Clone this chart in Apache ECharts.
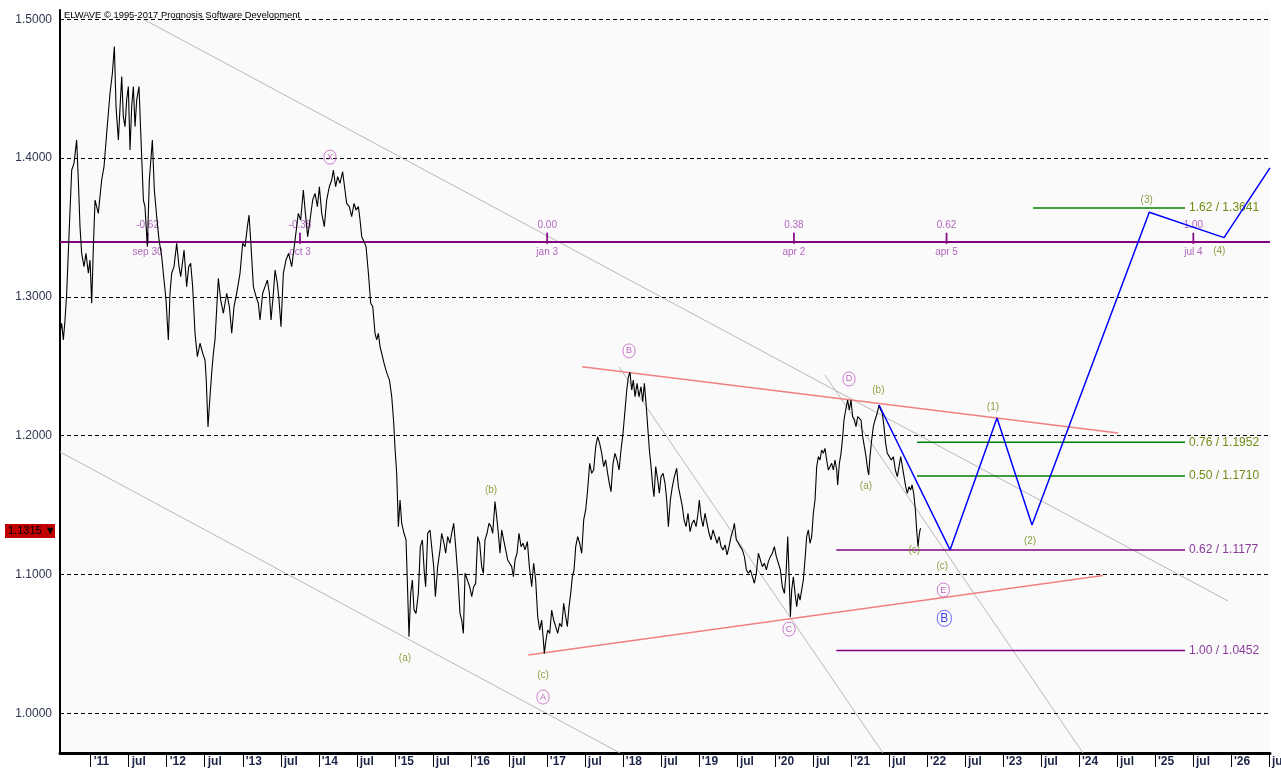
<!DOCTYPE html>
<html><head><meta charset="utf-8">
<script src="https://cdn.jsdelivr.net/npm/echarts@6/dist/echarts.min.js"></script>
<style>html,body{margin:0;padding:0;background:#fff}#c{width:1281px;height:774px}</style>
</head><body><div id="c"></div><script>
// ---- data (x = decimal year, y = EUR/USD) ----
const price = [
[2010.596,1.2738],[2010.618,1.2810],[2010.640,1.2690],[2010.662,1.2834],[2010.684,1.3026],[2010.719,1.3506],[2010.750,1.3914],[2010.780,1.3962],[2010.815,1.4131],[2010.837,1.3842],[2010.859,1.3506],[2010.881,1.3314],[2010.912,1.3218],[2010.938,1.3314],[2010.969,1.3170],[2010.991,1.3266],[2011.013,1.2954],[2011.035,1.3362],[2011.057,1.3698],[2011.100,1.3602],[2011.144,1.3842],[2011.175,1.3938],[2011.210,1.4179],[2011.254,1.4467],[2011.285,1.4611],[2011.311,1.4803],[2011.333,1.4371],[2011.364,1.4131],[2011.386,1.4371],[2011.408,1.4587],[2011.429,1.4299],[2011.451,1.4227],[2011.473,1.4419],[2011.495,1.4515],[2011.517,1.4059],[2011.539,1.4371],[2011.561,1.4515],[2011.583,1.4227],[2011.605,1.4419],[2011.635,1.4515],[2011.662,1.4131],[2011.693,1.3698],[2011.714,1.3650],[2011.745,1.3362],[2011.771,1.3842],[2011.811,1.4131],[2011.837,1.3770],[2011.868,1.3578],[2011.899,1.3410],[2011.934,1.3290],[2011.964,1.3122],[2011.991,1.2978],[2012.021,1.2690],[2012.043,1.3026],[2012.065,1.3170],[2012.096,1.3218],[2012.131,1.3386],[2012.162,1.3218],[2012.184,1.3146],[2012.228,1.3338],[2012.262,1.3074],[2012.289,1.3218],[2012.315,1.3242],[2012.341,1.3074],[2012.372,1.2738],[2012.403,1.2570],[2012.438,1.2666],[2012.473,1.2594],[2012.504,1.2545],
[2012.520,1.2400],[2012.543,1.2063],[2012.565,1.2250],[2012.591,1.2450],[2012.615,1.2600],[2012.635,1.2690],[2012.679,1.3134],[2012.710,1.2978],[2012.745,1.2882],[2012.789,1.3026],[2012.824,1.2930],[2012.855,1.2738],[2012.885,1.2930],[2012.920,1.3026],[2012.964,1.3170],[2012.999,1.3386],[2013.030,1.3362],[2013.061,1.3506],[2013.083,1.3590],[2013.104,1.3410],[2013.140,1.3074],[2013.175,1.3002],[2013.205,1.2954],[2013.227,1.2834],[2013.262,1.3026],[2013.293,1.3074],[2013.324,1.3122],[2013.350,1.3026],[2013.372,1.2834],[2013.403,1.3026],[2013.425,1.3194],[2013.455,1.3098],[2013.477,1.2978],[2013.503,1.2786],[2013.534,1.3170],[2013.569,1.3266],[2013.604,1.3314],[2013.644,1.3218],[2013.688,1.3410],[2013.731,1.3602],[2013.762,1.3554],[2013.797,1.3770],[2013.824,1.3602],[2013.854,1.3434],[2013.885,1.3554],[2013.920,1.3698],[2013.951,1.3746],[2013.982,1.3650],[2014.008,1.3794],[2014.039,1.3602],[2014.073,1.3506],[2014.104,1.3698],[2014.139,1.3794],[2014.170,1.3842],[2014.192,1.3914],[2014.222,1.3794],[2014.249,1.3866],[2014.279,1.3818],[2014.314,1.3902],[2014.336,1.3890],[2014.367,1.3674],[2014.402,1.3650],[2014.433,1.3578],[2014.464,1.3674],[2014.490,1.3626],[2014.521,1.3650],[2014.543,1.3554],[2014.565,1.3434],[2014.596,1.3398],[2014.622,1.3362],[2014.653,1.3170],[2014.683,1.2954],[2014.710,1.2930],[2014.740,1.2738],[2014.762,1.2690],[2014.784,1.2738],[2014.806,1.2642],[2014.828,1.2594],[2014.860,1.2520],[2014.890,1.2460],[2014.930,1.2400],[2014.960,1.2280],[2014.985,1.2100],
[2015.003,1.1909],[2015.025,1.1729],[2015.047,1.1345],[2015.069,1.1537],[2015.091,1.1369],[2015.121,1.1297],[2015.148,1.1249],[2015.170,1.0864],[2015.187,1.0552],[2015.209,1.0864],[2015.231,1.0960],[2015.253,1.0745],[2015.279,1.0720],[2015.310,1.0864],[2015.336,1.1201],[2015.363,1.1249],[2015.389,1.1009],[2015.406,1.0912],[2015.433,1.1297],[2015.463,1.1321],[2015.485,1.1201],[2015.512,1.1057],[2015.534,1.0840],[2015.564,1.1057],[2015.595,1.1177],[2015.617,1.1297],[2015.647,1.1225],[2015.669,1.1153],[2015.696,1.1273],[2015.726,1.1225],[2015.748,1.1297],[2015.775,1.1369],[2015.801,1.1201],[2015.827,1.1009],[2015.858,1.0720],[2015.880,1.0672],[2015.902,1.0576],[2015.924,1.1009],[2015.955,1.0960],[2015.985,1.0912],[2016.012,1.0840],[2016.038,1.0912],[2016.064,1.0936],[2016.090,1.1273],[2016.117,1.1225],[2016.143,1.1057],[2016.165,1.1009],[2016.187,1.1249],[2016.213,1.1297],[2016.239,1.1369],[2016.266,1.1345],[2016.288,1.1297],[2016.318,1.1525],[2016.340,1.1417],[2016.362,1.1297],[2016.384,1.1153],[2016.406,1.1321],[2016.432,1.1249],[2016.459,1.1177],[2016.485,1.1105],[2016.511,1.1081],[2016.538,1.1057],[2016.560,1.0984],[2016.582,1.1105],[2016.608,1.1153],[2016.634,1.1297],[2016.661,1.1201],[2016.687,1.1225],[2016.713,1.1177],[2016.744,1.1237],[2016.770,1.1057],[2016.801,1.0912],[2016.827,1.1081],[2016.853,1.0960],[2016.880,1.0696],[2016.906,1.0600],[2016.932,1.0672],[2016.954,1.0528],[2016.967,1.0432],[2016.989,1.0528],[2017.011,1.0600],[2017.038,1.0576],[2017.064,1.0744],[2017.090,1.0672],[2017.117,1.0624],[2017.143,1.0576],[2017.169,1.0648],[2017.196,1.0624],[2017.222,1.0792],[2017.248,1.0696],[2017.270,1.0624],[2017.292,1.0768],[2017.314,1.0864],[2017.336,1.0985],[2017.358,1.1033],[2017.380,1.1201],[2017.406,1.1273],[2017.432,1.1225],[2017.459,1.1153],[2017.485,1.1393],[2017.511,1.1465],[2017.537,1.1609],[2017.564,1.1801],[2017.590,1.1729],[2017.616,1.1753],[2017.643,1.1921],[2017.669,1.1993],[2017.695,1.1945],[2017.722,1.1873],[2017.748,1.1777],[2017.774,1.1825],[2017.800,1.1729],[2017.822,1.1657],[2017.844,1.1597],[2017.871,1.1801],[2017.897,1.1873],[2017.923,1.1825],[2017.950,1.1753],[2017.976,1.1897],[2018.002,1.2017],[2018.029,1.2185],[2018.051,1.2329],[2018.073,1.2425],[2018.094,1.2457],[2018.116,1.2329],[2018.138,1.2401],[2018.160,1.2281],[2018.187,1.2377],[2018.213,1.2281],[2018.239,1.2353],[2018.261,1.2245],[2018.283,1.2377],[2018.305,1.2233],[2018.327,1.2065],[2018.349,1.1897],[2018.371,1.1777],[2018.393,1.1633],[2018.410,1.1561],[2018.432,1.1777],[2018.459,1.1681],[2018.480,1.1585],[2018.502,1.1705],[2018.529,1.1729],[2018.555,1.1657],[2018.577,1.1537],[2018.599,1.1345],[2018.625,1.1537],[2018.651,1.1633],[2018.678,1.1705],[2018.708,1.1765],[2018.730,1.1633],[2018.757,1.1561],[2018.783,1.1489],[2018.805,1.1393],[2018.831,1.1345],[2018.857,1.1441],[2018.884,1.1309],[2018.910,1.1369],[2018.936,1.1393],[2018.963,1.1345],[2018.989,1.1441],[2019.006,1.1537],[2019.028,1.1417],[2019.055,1.1345],[2019.081,1.1441],[2019.107,1.1369],[2019.134,1.1297],[2019.160,1.1249],[2019.186,1.1321],[2019.213,1.1273],[2019.239,1.1225],[2019.266,1.1273],[2019.292,1.1201],[2019.318,1.1177],[2019.344,1.1213],[2019.371,1.1141],[2019.397,1.1201],[2019.423,1.1273],[2019.450,1.1321],[2019.467,1.1369],[2019.493,1.1249],[2019.520,1.1225],[2019.546,1.1201],[2019.572,1.1177],[2019.599,1.1129],[2019.625,1.1033],[2019.651,1.1009],[2019.677,1.1033],[2019.704,1.0985],[2019.730,1.0937],[2019.756,1.1009],[2019.783,1.1153],[2019.809,1.1105],[2019.835,1.1057],[2019.862,1.1081],[2019.888,1.1033],[2019.914,1.1093],[2019.941,1.1129],[2019.967,1.1153],[2019.993,1.1201],[2020.019,1.1129],[2020.046,1.1081],[2020.072,1.1033],[2020.098,1.0912],[2020.125,1.0864],[2020.147,1.1009],[2020.169,1.1273],[2020.186,1.1009],[2020.204,1.0696],
[2020.221,1.0888],[2020.243,1.0984],[2020.265,1.0864],[2020.287,1.0768],[2020.309,1.0864],[2020.331,1.0816],[2020.352,1.0888],[2020.374,1.0960],[2020.396,1.1105],[2020.418,1.1273],[2020.440,1.1321],[2020.462,1.1225],[2020.484,1.1273],[2020.506,1.1441],[2020.528,1.1537],[2020.550,1.1777],[2020.572,1.1849],[2020.594,1.1825],[2020.615,1.1897],[2020.637,1.1873],[2020.659,1.1909],[2020.681,1.1825],[2020.703,1.1753],[2020.725,1.1777],[2020.747,1.1801],[2020.769,1.1753],[2020.791,1.1825],[2020.813,1.1753],[2020.826,1.1645],[2020.848,1.1801],[2020.870,1.1873],[2020.892,1.1993],[2020.909,1.2113],[2020.931,1.2185],[2020.957,1.2257],[2020.979,1.2185],[2021.001,1.2257],[2021.023,1.2137],[2021.045,1.2113],[2021.067,1.2065],[2021.089,1.2137],[2021.111,1.2125],[2021.133,1.2113],[2021.155,1.1993],[2021.177,1.1921],[2021.199,1.1849],[2021.221,1.1753],[2021.234,1.1717],[2021.251,1.1849],[2021.273,1.1969],[2021.295,1.2065],[2021.317,1.2113],[2021.339,1.2149],[2021.370,1.2221],[2021.392,1.2185],[2021.414,1.2161],[2021.435,1.2065],[2021.457,1.1945],[2021.479,1.1873],[2021.506,1.1849],[2021.532,1.1825],[2021.558,1.1849],[2021.585,1.1753],[2021.611,1.1705],[2021.633,1.1777],[2021.655,1.1849],[2021.677,1.1777],[2021.699,1.1705],[2021.721,1.1633],[2021.742,1.1585],[2021.764,1.1633],[2021.786,1.1609],[2021.804,1.1645],[2021.826,1.1585],[2021.848,1.1465],[2021.865,1.1321],[2021.883,1.1201],[2021.896,1.1273],[2021.909,1.1321],[2021.918,1.1333]
];
const lastPrice = 1.1315;
const yTickValues = [1.0, 1.1, 1.2, 1.3, 1.4, 1.5];
const xTickYears = [2011,2011.5,2012,2012.5,2013,2013.5,2014,2014.5,2015,2015.5,2016,2016.5,2017,2017.5,2018,2018.5,2019,2019.5,2020,2020.5,2021,2021.5,2022,2022.5,2023,2023.5,2024,2024.5,2025,2025.5,2026,2026.5];
const timeLineLevel = 1.3422;
const timeRatios = ['-0.62','-0.38','0.00','0.38','0.62','1.00'];
const timeDates  = ['sep 30','oct 3','jan 3','apr 2','apr 5','jul 4'];
const timeYears  = [2011.748, 2013.753, 2017.005, 2020.250, 2022.258, 2025.505];
const fibExt = [ // green
  {ratio:'1.62', value:1.3641, from:2023.396, to:2025.395},
  {ratio:'0.76', value:1.1952, from:2021.870, to:2025.395},
  {ratio:'0.50', value:1.1710, from:2021.870, to:2025.395}
];
const fibRet = [ // purple
  {ratio:'0.62', value:1.1177, from:2020.808, to:2025.395},
  {ratio:'1.00', value:1.0452, from:2020.808, to:2025.395}
];
const projection = [[2021.370,1.2221],[2022.304,1.1177],[2022.922,1.2128],[2023.382,1.1357],[2024.925,1.3610],[2025.908,1.3427],[2026.513,1.3930]];
const grayLines = [
  [[2011.688,1.5002],[2025.961,1.0809]],
  [[2010.596,1.1883],[2017.963,0.9714]],
  [[2020.659,1.2437],[2024.053,0.9714]],
  [[2017.950,1.2495],[2021.422,0.9714]]
];
const redLines = [
  [[2017.463,1.2497],[2024.514,1.2019]],
  [[2016.756,1.0420],[2024.316,1.0993]]
];
const majorLabels = [
  {name:'X', pos:[2014.147,1.4007]}, {name:'A', pos:[2016.950,1.0117]},
  {name:'B', pos:[2018.081,1.2611]}, {name:'C', pos:[2020.186,1.0607]},
  {name:'D', pos:[2020.975,1.2409]}, {name:'E', pos:[2022.216,1.0888]}
];
const minorLabels = [
  {name:'(a)', pos:[2015.134,1.0396]}, {name:'(b)', pos:[2016.266,1.1609]}, {name:'(c)', pos:[2016.950,1.0276]},
  {name:'(a)', pos:[2021.198,1.1638]}, {name:'(b)', pos:[2021.361,1.2329]}, {name:'(c)', pos:[2021.834,1.1177]},
  {name:'(c)', pos:[2022.202,1.1056]}, {name:'(1)', pos:[2022.869,1.2207]}, {name:'(2)', pos:[2023.356,1.1241]},
  {name:'(3)', pos:[2024.891,1.3698]}, {name:'(4)', pos:[2025.846,1.3330]}
];
const degreeLabel = {name:'B', pos:[2022.229,1.0684]};
const titleText = 'ELWAVE \u00A9 1995-2017 Prognosis Software Development';

// ---- chart ----
const X_MIN = 2010.596, X_MAX = 2026.513, Y_MIN = 0.9714, Y_MAX = 1.5067;
const FONT = 'Liberation Sans, Arial, sans-serif';
const chart = echarts.init(document.getElementById('c'), null, {renderer:'canvas'});
const series = [];

grayLines.forEach((ln, i) => {
  const s = {type:'line', data:ln, showSymbol:false, silent:true, z:1, animation:false,
    lineStyle:{color:'#b8b8b8', width:1}};
  if (i === 0) {
    s.markLine = {silent:true, symbol:'none', animation:false, label:{show:false},
      data: yTickValues.map(v => ({yAxis:v, lineStyle:{color:'#000', width:1, type:[4,3]}}))
        .concat([{yAxis: timeLineLevel, lineStyle:{color:'#800080', width:2, type:'solid'}}])};
  }
  series.push(s);
});
redLines.forEach(ln => series.push({type:'line', data:ln, showSymbol:false, silent:true, z:2, animation:false,
  lineStyle:{color:'#f08080', width:1.5}}));

series.push({type:'scatter', z:3, silent:true, animation:false, symbol:'rect', symbolSize:[1.5,11],
  itemStyle:{color:'#800080'},
  data: timeYears.map((t,i) => ({value:[t, timeLineLevel], name: timeRatios[i]})),
  label:{show:true, position:'top', distance:3, formatter:'{b}', color:'#a040b0', fontSize:10, fontFamily:FONT}});
series.push({type:'scatter', z:3, silent:true, animation:false, symbol:'rect', symbolSize:[1.5,11],
  itemStyle:{color:'#800080'},
  data: timeYears.map((t,i) => ({value:[t, timeLineLevel], name: timeDates[i]})),
  label:{show:true, position:'bottom', distance:3, formatter:'{b}', color:'#a040b0', fontSize:10, fontFamily:FONT}});

fibExt.forEach(f => series.push({type:'line', z:3, silent:true, animation:false, showSymbol:false,
  data:[[f.from,f.value],[f.to,f.value]], lineStyle:{color:'#008000', width:1.5},
  endLabel:{show:true, distance:4, formatter: f.ratio + ' / ' + f.value.toFixed(4), color:'#6f8c14', fontSize:12, fontFamily:FONT}}));
fibRet.forEach(f => series.push({type:'line', z:3, silent:true, animation:false, showSymbol:false,
  data:[[f.from,f.value],[f.to,f.value]], lineStyle:{color:'#800080', width:1.5},
  endLabel:{show:true, distance:4, formatter: f.ratio + ' / ' + f.value.toFixed(4), color:'#8a3c9c', fontSize:12, fontFamily:FONT}}));

series.push({type:'line', data:price, showSymbol:false, z:5, silent:true, animation:false,
  lineStyle:{color:'#000', width:1.1}});

series.push({type:'line', data:projection, showSymbol:false, z:6, silent:true, animation:false,
  lineStyle:{color:'#0000ff', width:1.5}});

series.push({type:'scatter', z:7, silent:true, animation:false, symbolSize:0,
  data: majorLabels.map(l => ({value:l.pos, name:l.name})),
  label:{show:true, position:'inside', formatter:'{b}', color:'#b040b0', fontSize:9, fontFamily:FONT,
    borderColor:'#c060c0', borderWidth:1, borderRadius:7, width:10, height:12, lineHeight:12, align:'center', verticalAlign:'middle', padding:[1,1,1,1]}});
series.push({type:'scatter', z:7, silent:true, animation:false, symbolSize:0,
  data: minorLabels.map(l => ({value:l.pos, name:l.name})),
  label:{show:true, position:'inside', formatter:'{b}', color:'#6f8c14', fontSize:10, fontFamily:FONT}});
series.push({type:'scatter', z:7, silent:true, animation:false, symbolSize:0,
  data: [{value:degreeLabel.pos, name:degreeLabel.name}],
  label:{show:true, position:'inside', formatter:'{b}', color:'#1010ee', fontSize:12, fontFamily:FONT,
    borderColor:'#4040ff', borderWidth:1, borderRadius:8, width:12, height:14, lineHeight:14, align:'center', verticalAlign:'middle', padding:[1,1,1,1]}});

chart.setOption({
  animation:false,
  backgroundColor:'#ffffff',
  title:{text:titleText, left:64, top:11, padding:0, textStyle:{fontSize:9.4, fontWeight:'normal', color:'#000', fontFamily:FONT}},
  grid:{left:60, right:11, top:10, bottom:21, show:true, backgroundColor:'#fafafa', borderWidth:0, containLabel:false, outerBoundsMode:'none'},
  xAxis:{type:'value', min:X_MIN, max:X_MAX,
    axisLine:{show:true, lineStyle:{color:'#000', width:3}},
    axisTick:{show:true, length:14, customValues:xTickYears, lineStyle:{color:'#000', width:1}},
    splitLine:{show:false},
    axisLabel:{customValues:xTickYears, align:'left', margin:3, padding:[0,0,0,3], color:'#1c2448', fontWeight:'bold', fontSize:12, fontFamily:FONT,
      hideOverlap:false,
      formatter: v => Math.abs(v - Math.round(v)) < 0.01 ? "'" + String(Math.round(v)).slice(2) : 'jul'}},
  yAxis:{type:'value', min:Y_MIN, max:Y_MAX,
    axisLine:{show:true, onZero:false, lineStyle:{color:'#000', width:2}},
    axisTick:{show:false},
    splitLine:{show:false},
    axisLabel:{customValues:yTickValues, margin:8, color:'#2c3550', fontSize:12, fontFamily:FONT, formatter: v => v.toFixed(4)}},
  series: series
});

const py = chart.convertToPixel({yAxisIndex:0}, lastPrice);
chart.setOption({graphic:[
  {type:'rect', shape:{x:5, y:Math.round(py)-7, width:50, height:14}, style:{fill:'#c00000'}, z:10},
  {type:'text', x:8, y:Math.round(py), style:{text: lastPrice.toFixed(4) + ' \u25BC', fill:'#000', font:'11px ' + FONT, textVerticalAlign:'middle'}, z:11}
]});
</script></body></html>
